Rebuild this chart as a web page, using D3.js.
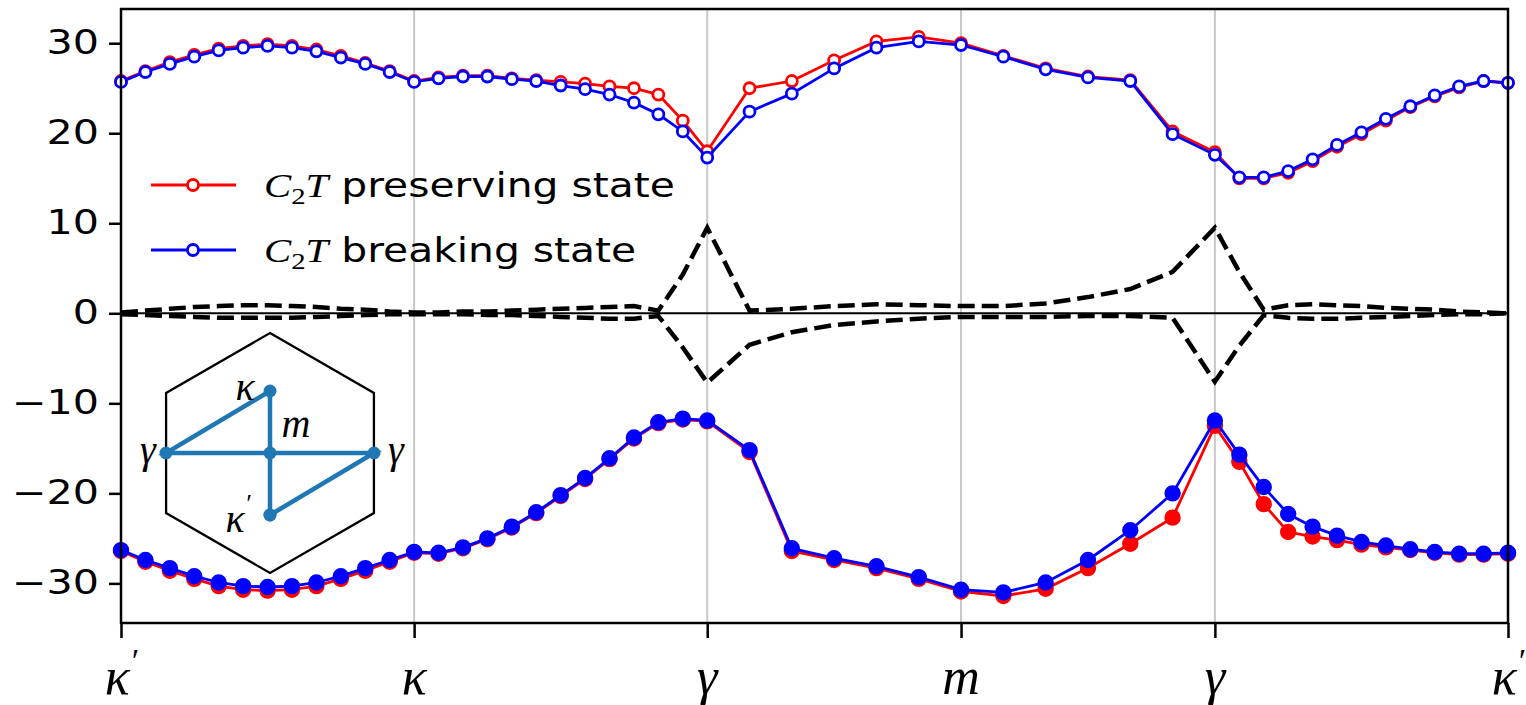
<!DOCTYPE html>
<html>
<head>
<meta charset="utf-8">
<script src="https://cdn.jsdelivr.net/npm/d3@7"></script>
<style>
  body { margin: 0; background: #fff; }
</style>
</head>
<body>
<div id="chart"></div>
<script>
// high-symmetry points along the k path (path length units) and samples per segment
const kNodes = [0, 1, 2, 2.866, 3.732, 4.732];
const kLabels = ["κ", "κ", "γ", "m", "γ", "κ"];
const kPrime = [true, false, false, false, false, true];
const segSteps = [12, 12, 6, 6, 12];
const yTicks = [30, 20, 10, 0, -10, -20, -30];

// upper band
const upperPreserving = [25.8, 26.9, 27.9, 28.7, 29.4, 29.7, 29.9, 29.7, 29.3, 28.6, 27.8, 26.9, 25.8,
  26.2, 26.4, 26.4, 26.1, 25.9, 25.7, 25.5, 25.2, 25.0, 24.3, 21.4, 18.0,
  25.0, 25.8, 28.1, 30.2, 30.7, 30.0,
  28.6, 27.2, 26.3, 25.9, 20.2, 17.9,
  15.0, 15.0, 15.6, 16.9, 18.5, 19.9, 21.4, 22.9, 24.1, 25.1, 25.8, 25.6];
const upperBreaking = [25.7, 26.8, 27.7, 28.5, 29.2, 29.5, 29.7, 29.5, 29.1, 28.4, 27.7, 26.8, 25.7,
  26.1, 26.3, 26.3, 26.0, 25.8, 25.3, 24.9, 24.3, 23.4, 22.1, 20.2, 17.3,
  22.4, 24.4, 27.2, 29.5, 30.2, 29.8,
  28.5, 27.1, 26.2, 25.8, 19.9, 17.6,
  15.1, 15.1, 15.8, 17.1, 18.7, 20.1, 21.6, 23.0, 24.2, 25.2, 25.8, 25.6];

// lower band
const lowerPreserving = [-26.4, -27.6, -28.6, -29.5, -30.3, -30.7, -30.8, -30.7, -30.3, -29.5, -28.6, -27.6, -26.6,
  -26.7, -26.1, -25.1, -23.8, -22.2, -20.3, -18.4, -16.2, -13.9, -12.2, -11.8, -12.0,
  -15.4, -26.4, -27.4, -28.3, -29.5, -30.9,
  -31.4, -30.6, -28.3, -25.6, -22.7, -12.5,
  -16.5, -21.2, -24.3, -24.8, -25.2, -25.7, -26.0, -26.3, -26.6, -26.8, -26.8, -26.7];
const lowerBreaking = [-26.3, -27.4, -28.3, -29.2, -29.9, -30.3, -30.4, -30.3, -29.9, -29.2, -28.3, -27.4, -26.5,
  -26.6, -26.0, -25.0, -23.7, -22.1, -20.2, -18.3, -16.1, -13.8, -12.1, -11.7, -11.9,
  -15.2, -26.1, -27.2, -28.1, -29.3, -30.7,
  -31.0, -29.9, -27.4, -24.1, -20.0, -11.9,
  -15.7, -19.3, -22.3, -23.7, -24.7, -25.4, -25.8, -26.2, -26.5, -26.7, -26.7, -26.6];

// black dashed curves near zero
const dashUpper = [0.1, 0.3, 0.5, 0.7, 0.8, 0.9, 0.9, 0.8, 0.7, 0.5, 0.4, 0.2, 0.1,
  0.1, 0.2, 0.2, 0.3, 0.4, 0.5, 0.6, 0.7, 0.8, 0.3, 4.3, 9.5,
  0.3, 0.5, 0.8, 1.0, 0.9, 0.8,
  0.8, 1.1, 1.8, 2.7, 4.6, 9.5,
  4.6, 0.4, 0.9, 1.0, 0.9, 0.8, 0.6, 0.5, 0.4, 0.2, 0.1, 0.0];
const dashLower = [-0.1, -0.2, -0.3, -0.4, -0.5, -0.5, -0.5, -0.5, -0.4, -0.3, -0.2, -0.1, -0.1,
  -0.1, -0.1, -0.2, -0.2, -0.3, -0.4, -0.5, -0.6, -0.6, -0.3, -3.8, -7.7,
  -3.5, -2.1, -1.3, -0.9, -0.6, -0.4,
  -0.4, -0.4, -0.3, -0.3, -0.5, -7.6,
  -3.6, -0.2, -0.5, -0.6, -0.6, -0.5, -0.4, -0.3, -0.2, -0.1, -0.1, 0.0];

// build the k grid from the segment nodes
const kGrid = [kNodes[0]];
segSteps.forEach((n, s) => {
  const a = kNodes[s], b = kNodes[s + 1];
  for (let i = 1; i <= n; i++) kGrid.push(a + (b - a) * i / n);
});

const W = 1526, H = 705;
const margin = {top: 9, right: 18, bottom: 82, left: 121};
const textStretch = 1.25;   // the original text is set wide

const svg = d3.select("#chart").append("svg")
  .attr("width", W).attr("height", H);

const x = d3.scaleLinear().domain([0, 4.732]).range([margin.left, W - margin.right]);
const y = d3.scaleLinear().domain([-34.4, 33.8]).range([H - margin.bottom, margin.top]);

// vertical grid at inner symmetry points
svg.append("g").selectAll("line")
  .data(kNodes.slice(1, -1))
  .enter().append("line")
    .attr("x1", d => x(d)).attr("x2", d => x(d))
    .attr("y1", y.range()[0]).attr("y2", y.range()[1])
    .attr("stroke", "#c8c8c8").attr("stroke-width", 2);

// zero line
svg.append("line")
  .attr("x1", x.range()[0]).attr("x2", x.range()[1])
  .attr("y1", y(0)).attr("y2", y(0))
  .attr("stroke", "#000").attr("stroke-width", 2);

const line = d3.line().x((d, i) => x(kGrid[i])).y(d => y(d));

// dashed curves
[dashUpper, dashLower].forEach(s => {
  svg.append("path")
    .attr("d", line(s))
    .attr("fill", "none")
    .attr("stroke", "#000")
    .attr("stroke-width", 4.5)
    .attr("stroke-dasharray", "17,7");
});

function drawSeries(vals, color, filled) {
  svg.append("path")
    .attr("d", line(vals))
    .attr("fill", "none")
    .attr("stroke", color)
    .attr("stroke-width", 2.8);
  svg.append("g").selectAll("circle")
    .data(vals)
    .enter().append("circle")
      .attr("cx", (d, i) => x(kGrid[i]))
      .attr("cy", d => y(d))
      .attr("r", filled ? 6.8 : 5.5)
      .attr("fill", filled ? color : "#fff")
      .attr("stroke", color)
      .attr("stroke-width", 2.8);
}

drawSeries(upperPreserving, "#ff0000", false);
drawSeries(lowerPreserving, "#ff0000", true);
drawSeries(upperBreaking, "#0000ff", false);
drawSeries(lowerBreaking, "#0000ff", true);

// frame
svg.append("rect")
  .attr("x", x.range()[0]).attr("y", y.range()[1])
  .attr("width", x.range()[1] - x.range()[0])
  .attr("height", y.range()[0] - y.range()[1])
  .attr("fill", "none").attr("stroke", "#000").attr("stroke-width", 2.5);

// y axis
const yAxis = svg.append("g")
  .attr("transform", "translate(" + margin.left + ",0)")
  .call(d3.axisLeft(y).tickValues(yTicks).tickSize(12).tickPadding(10)
    .tickFormat(d => d < 0 ? "\u2212" + Math.abs(d) : d));
yAxis.select(".domain").remove();
yAxis.selectAll(".tick line").attr("stroke-width", 2.5);
yAxis.selectAll(".tick text")
  .attr("font-family", "DejaVu Sans").attr("font-size", 33).attr("fill", "#000")
  .attr("transform", "translate(-22,0) scale(" + textStretch + ",1) translate(22,0)");

// x axis
const xAxis = svg.append("g")
  .attr("transform", "translate(0," + y.range()[0] + ")")
  .call(d3.axisBottom(x).tickValues(kNodes).tickSize(15).tickFormat(""));
xAxis.select(".domain").remove();
xAxis.selectAll(".tick line").attr("stroke-width", 2.5);

const xl = svg.append("g").selectAll("text")
  .data(kNodes)
  .enter().append("text")
    .attr("x", d => x(d))
    .attr("y", 694)
    .attr("text-anchor", "middle")
    .attr("font-family", "Liberation Serif")
    .attr("font-style", "italic")
    .attr("font-size", 52);
xl.append("tspan").text((d, i) => kLabels[i]);
xl.filter((d, i) => kPrime[i]).append("tspan")
  .attr("dy", -22).attr("font-size", 34).text("\u2032");

// legend
const legend = [
  {label: "preserving state", color: "#ff0000", y: 185},
  {label: "breaking state", color: "#0000ff", y: 250}
];
legend.forEach(l => {
  svg.append("line")
    .attr("x1", 151).attr("x2", 236).attr("y1", l.y).attr("y2", l.y)
    .attr("stroke", l.color).attr("stroke-width", 2.8);
  svg.append("circle")
    .attr("cx", 193).attr("cy", l.y).attr("r", 5.5)
    .attr("fill", "#fff").attr("stroke", l.color).attr("stroke-width", 2.8);
  const t = svg.append("text")
    .attr("x", 0).attr("y", 0)
    .attr("transform", "translate(264," + (l.y + 12) + ") scale(1.2,1)")
    .attr("font-family", "DejaVu Sans").attr("font-size", 34).attr("fill", "#000");
  t.append("tspan").attr("font-family", "Liberation Serif").attr("font-style", "italic").text("C");
  t.append("tspan").attr("font-family", "Liberation Serif").attr("font-size", 24).attr("dy", 7).text("2");
  t.append("tspan").attr("font-family", "Liberation Serif").attr("font-style", "italic").attr("dy", -7).text("T");
  t.append("tspan").text(" " + l.label);
});

// inset: Brillouin zone with the k path
const hexCenter = [270, 453], hexR = 120;
const hex = d3.range(6).map(i => {
  const a = Math.PI / 2 - i * Math.PI / 3;
  return [hexCenter[0] + hexR * Math.cos(a), hexCenter[1] - hexR * Math.sin(a)];
});
svg.append("path")
  .attr("d", d3.line()(hex) + "Z")
  .attr("fill", "none").attr("stroke", "#000").attr("stroke-width", 2.3);

const pathPts = [[270, 515], [270, 391], [166, 453], [270, 453], [374, 453], [270, 515]];
svg.append("path")
  .attr("d", d3.line()(pathPts))
  .attr("fill", "none").attr("stroke", "#1f77b4").attr("stroke-width", 4.5);
svg.append("g").selectAll("circle")
  .data(pathPts)
  .enter().append("circle")
    .attr("cx", d => d[0]).attr("cy", d => d[1]).attr("r", 6.5)
    .attr("fill", "#1f77b4");

const insetLabels = [
  {t: "κ", x: 245, y: 400},
  {t: "m", x: 296, y: 437},
  {t: "γ", x: 148, y: 463},
  {t: "γ", x: 396, y: 463},
  {t: "κ", x: 238, y: 532, prime: true}
];
insetLabels.forEach(l => {
  const t = svg.append("text")
    .attr("x", l.x).attr("y", l.y)
    .attr("text-anchor", "middle")
    .attr("font-family", "Liberation Serif").attr("font-style", "italic")
    .attr("font-size", 40);
  t.append("tspan").text(l.t);
  if (l.prime) t.append("tspan").attr("dy", -20).attr("font-size", 26).text("\u2032");
});
</script>
</body>
</html>
